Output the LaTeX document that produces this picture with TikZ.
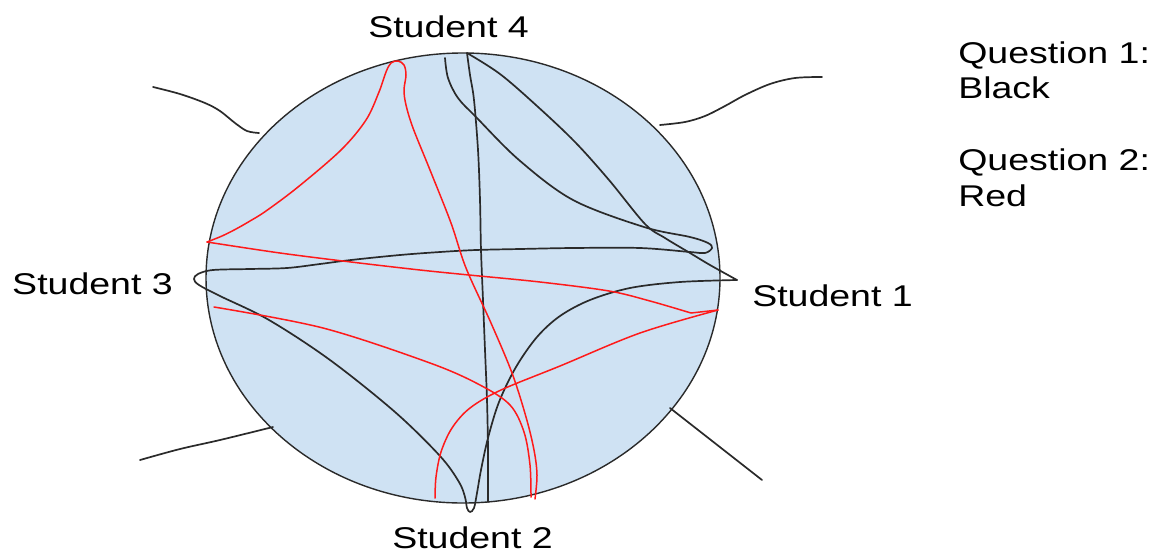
\documentclass[tikz,border=0pt]{standalone}
\usepackage{fontspec}
\setmainfont{Liberation Sans}
\usetikzlibrary{shapes.geometric}
\definecolor{fillblue}{HTML}{CFE2F3}
\definecolor{ink}{HTML}{2A2A2A}
\definecolor{pen}{HTML}{FF1A1A}
\tikzset{
  lbl/.style={anchor=base west, inner sep=0pt, xscale=1.25, font=\fontsize{30}{36}\selectfont, text=black},
  blk/.style={draw=ink, line width=1.7pt, line cap=round, line join=round},
  rd/.style={draw=pen, line width=1.5pt, line cap=round, line join=round},
  sm/.style={smooth, tension=0.55}
}
\begin{document}
\begin{tikzpicture}[x=1pt,y=-1pt]
\useasboundingbox (0,0) rectangle (1158,552);
% main circle
\node[draw=ink, line width=1.4pt, fill=fillblue, ellipse, minimum width=514pt, minimum height=450pt, inner sep=0pt] (c) at (463,278) {};
% outside strokes
\draw[blk] plot[sm] coordinates {(153,87) (180,94) (205,103) (220,111) (235,123) (247,131) (259,133)};
\draw[blk] plot[sm] coordinates {(660,125) (685,122) (705,116) (725,106) (745,95) (770,84) (795,78) (822,77)};
\draw[blk] plot[sm] coordinates {(140,460) (180,449) (220,440) (273,427)};
\draw[blk] (670,408) -- (762,480);
% black strokes (question 1)
\draw[blk] plot[sm] coordinates {(467,53) (470,75) (474,100) (478,150) (480,200) (481,250) (483,300) (485,350) (487,400) (488,450) (488,502)};
\draw[blk] plot[sm] coordinates {(445,58) (448,78) (458,98) (476,117) (519,160) (573,200) (644,227) (690,237) (708,243) (712,248) (705,253) (690,252) (640,248) (573,248) (520,249) (476,250) (440,252) (400,255) (351,260) (320,264) (287,268) (250,269) (213,270) (198,274) (194,279) (199,285) (220,296) (269,320) (330,360) (395,412) (440,456) (459,482) (465,497) (467,508) (470,512) (474,508) (477,493) (481,470) (488,438) (499,402) (516,367) (537,337) (560,316) (590,300) (630,288) (680,282) (737,280)};
\draw[blk] plot[sm] coordinates {(737,280) (710,265) (690,253) (665,238) (645,224) (609,180) (575,142) (537,106) (500,74) (467,53)};
% red strokes (question 2)
\draw[rd] plot[sm] coordinates {(207,242) (222,236) (236,229) (250,221) (266,211) (298,187) (341,150) (366,120) (379,92) (386,72) (391,63) (398,61) (404,65) (406,75) (404,90) (406,105) (413,128) (430,170) (451,223) (466,268) (491,323) (512,373) (526,417) (534,450) (537,475) (535,499)};
\draw[rd] plot[sm] coordinates {(214,307) (323,328) (430,363) (480,385) (510,405) (524,432) (530,465) (531,497)};
\draw[rd] plot[sm] coordinates {(207,242) (280,253) (351,262) (420,270) (469,275) (540,282) (609,291) (650,301) (691,313)} -- (718,310);
\draw[rd] plot[sm] coordinates {(718,310) (640,333) (560,366) (501,390) (470,408) (452,428) (441,452) (436,477) (435,498)};
% labels
\node[lbl] (s4) at (368,37) {Student 4};
\node[lbl] (s3) at (12,294) {Student 3};
\node[lbl] (s1) at (752,306) {Student 1};
\node[lbl] (s2) at (392,548) {Student 2};
\node[lbl] (q1) at (958,63) {Question 1:};
\node[lbl] (q1b) at (958,98) {Black};
\node[lbl] (q2) at (958,170) {Question 2:};
\node[lbl] (q2r) at (958,206) {Red};
\end{tikzpicture}
\end{document}
